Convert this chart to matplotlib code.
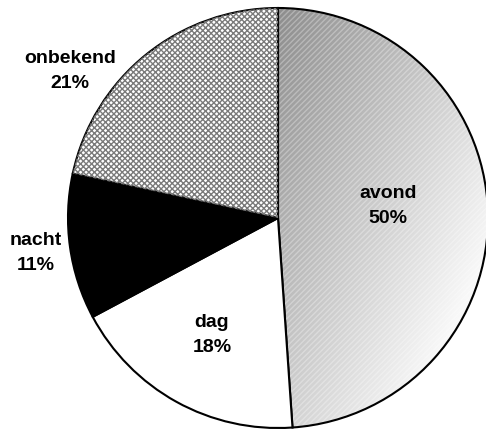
import numpy as np
import matplotlib.pyplot as plt
from matplotlib.patches import Wedge

# Dagdeel verdeling
labels = ['avond', 'dag', 'nacht', 'onbekend']
values = [48.9, 18.3, 11.2, 21.6]
pct_labels = ['50%', '18%', '11%', '21%']
colors = ['none', 'white', 'black', 'white']

plt.rcParams['font.family'] = ['Liberation Sans', 'DejaVu Sans']

fig = plt.figure(figsize=(4.86, 4.30), dpi=100)
ax = fig.add_axes([0, 0, 1, 1])

cx, cy, r = 278, 212, 210
wedges, _ = ax.pie(values, startangle=90, counterclock=False, colors=colors,
                   center=(cx, cy), radius=r,
                   wedgeprops=dict(edgecolor='black', linewidth=1.5, zorder=3))

# gradient in avond slice (dark top-left -> light bottom-right)
gx, gy = np.meshgrid(np.linspace(0, 1, 300), np.linspace(0, 1, 300))
grad = np.clip(0.55 + 0.27 * gx + 0.26 * gy, 0, 0.97)
img = ax.imshow(grad, cmap='gray', vmin=0, vmax=1, origin='upper',
                extent=(cx, cx + r, cy - r, cy + r), zorder=1, interpolation='bilinear')
img.set_clip_path(wedges[0])

# fine hatch overlays
w0 = wedges[0]
ax.add_patch(Wedge((cx, cy), r, w0.theta1, w0.theta2, facecolor='none',
                   edgecolor=(1, 1, 1, 0.3), linewidth=0.1, hatch='//////', zorder=2))
w3 = wedges[3]
ax.add_patch(Wedge((cx, cy), r, w3.theta1, w3.theta2, facecolor='none',
                   edgecolor='#7a7a7a', linewidth=0.1, hatch='xxxxxx', zorder=3.5))

# labels
pos = [(388, 224), (212, 95), (36, 177), (70, 359)]
for (x, y), lab, pct in zip(pos, labels, pct_labels):
    ax.text(x, y, lab + '\n' + pct, ha='center', va='center', fontsize=14,
            fontweight='bold', linespacing=1.6, zorder=5)

ax.set_xlim(0, 486)
ax.set_ylim(0, 430)
ax.set_aspect('equal')
ax.axis('off')

fig.savefig('out.png', dpi=100)
